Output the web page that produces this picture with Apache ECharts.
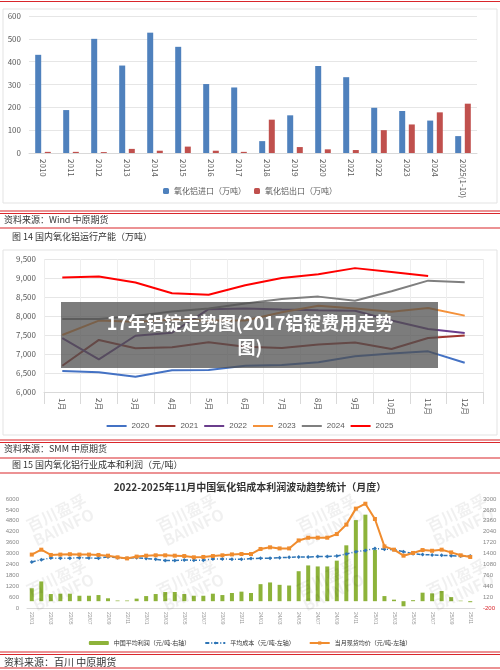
<!DOCTYPE html>
<html><head><meta charset="utf-8">
<script src="https://cdn.jsdelivr.net/npm/echarts@6/dist/echarts.min.js"></script>
<style>html,body{margin:0;padding:0;background:#fff}#c{width:500px;height:670px}</style>
</head><body><div id="c"></div>
<script>
// Chart 1: alumina import/export
const years = ['2010','2011','2012','2013','2014','2015','2016','2017','2018','2019','2020','2021','2022','2023','2024','2025(1-10)'];
const importVals = [430,188,500,383,527,465,302,287,52,165,381,332,198,184,142,74];
const exportVals = [5,5,4,18,10,28,10,5,146,26,16,13,100,125,178,216];
// Chart 2: capacity by month
const months = ['1月','2月','3月','4月','5月','6月','7月','8月','9月','10月','11月','12月'];
const cap2020 = [6550,6520,6400,6570,6580,6690,6710,6780,6940,7010,7070,6770];
const cap2021 = [6690,7370,7150,7180,7310,7190,7160,7250,7300,7130,7420,7490];
const cap2022 = [7420,6860,7480,7560,8180,8200,8170,8150,8140,7880,7660,7550];
const cap2023 = [7500,7880,7850,7900,7880,7880,8100,8270,8200,8110,8210,8010];
const cap2024 = [7920,7920,8000,8120,8200,8330,8450,8510,8400,8650,8930,8890];
const cap2025 = [9010,9040,8880,8600,8560,8810,9000,9100,9260,9160,9050];
// Chart 3: cost & profit
const ym = [];
for (let y=22;y<=25;y++) for (let m=1;m<=12;m++){ if(y===25&&m>11)break; ym.push(y+'/'+String(m).padStart(2,'0')); }
const profit = [380,580,210,220,220,160,160,180,85,20,20,75,150,210,270,270,210,160,160,220,180,240,280,240,500,550,480,460,880,1050,1020,1020,1190,1640,2380,2540,1510,150,45,-150,30,250,230,300,120,15,-30];
const cost = [2530,2660,2750,2740,2740,2770,2750,2740,2810,2770,2740,2770,2720,2680,2610,2610,2640,2630,2630,2700,2700,2680,2680,2720,2740,2740,2770,2790,2810,2810,2830,2840,2860,2970,3100,3170,3280,3240,3210,3100,2990,2940,2920,2900,2880,2860,2860];
const spot = [2940,3210,2920,2940,2960,2940,2940,2920,2880,2790,2730,2830,2880,2900,2900,2880,2860,2790,2810,2860,2900,2950,2970,2970,3250,3340,3280,3280,3720,3870,3870,3870,4070,4590,5470,5740,4900,3390,3210,2880,3030,3190,3150,3210,3060,2900,2810];

const gray='#595959';
const lab={color:gray,fontSize:8,fontFamily:'Noto Sans CJK SC'};
const g=[];
function hline(y,c,w){g.push({type:'line',shape:{x1:0,y1:y,x2:500,y2:y},style:{stroke:c||'#d9262b',lineWidth:w||1.2},z:1});}
function txt(x,y,t,o){g.push({type:'text',x:x,y:y,style:Object.assign({text:t,fill:'#333',font:'9px "Noto Sans CJK SC"',textVerticalAlign:'middle'},o||{}),z:5});}
hline(1.5);hline(211);hline(213.5);hline(228);hline(440);hline(442.5);hline(458);hline(473);hline(652);hline(654.5);hline(668);
g.push({type:'rect',shape:{x:3,y:9,width:494,height:194},style:{fill:'none',stroke:'#e3e3e3'},z:0});
g.push({type:'rect',shape:{x:3,y:250,width:494,height:185},style:{fill:'none',stroke:'#e3e3e3'},z:0});
txt(4,220,'资料来源：Wind 中原期货',{font:'9px "Noto Sans CJK SC"'});
txt(12,237,'图 14 国内氧化铝运行产能（万吨）');
txt(4,449,'资料来源：SMM 中原期货');
txt(12,465,'图 15 国内氧化铝行业成本和利润（元/吨）');
txt(4,662,'资料来源：百川 中原期货',{font:'10px "Noto Sans CJK SC"'});
txt(250,487,'2022-2025年11月中国氧化铝成本利润波动趋势统计（月度）',{textAlign:'center',font:'bold 10px "Noto Sans CJK SC"'});
[[60,520],[190,520],[330,520],[460,520],[60,585],[190,585],[330,585],[460,585]].forEach(p=>{
 g.push({type:'text',x:p[0],y:p[1],rotation:0.45,style:{text:'百川盈孚\nBAIINFO',fill:'rgba(0,0,0,0.06)',font:'bold 16px "Noto Sans CJK SC"',textAlign:'center',textVerticalAlign:'middle'},z:3});
});
g.push({type:'rect',shape:{x:61,y:302,width:377,height:66},style:{fill:'rgba(80,80,80,0.75)'},z:50});
g.push({type:'text',x:250,y:335,style:{text:'17年铝锭走势图(2017铝锭费用走势\n图)',fill:'#fff',font:'bold 18px "Noto Sans CJK SC"',textAlign:'center',textVerticalAlign:'middle',lineHeight:24},z:51});

const lineS=(name,data,color)=>({name,type:'line',xAxisIndex:1,yAxisIndex:1,data,symbol:'none',lineStyle:{width:2,color},itemStyle:{color}});
const plain=v=>String(v);
const opt={
 animation:false,
 graphic:g,
 grid:[
  {left:29,right:23,top:16,height:137},
  {left:44,right:17,top:259,height:133},
  {left:27,right:25,top:499,height:109}
 ],
 legend:[
  {data:['氧化铝进口（万吨）','氧化铝出口（万吨）'],top:182,left:'center',itemWidth:6,itemHeight:6,itemGap:8,textStyle:{color:gray,fontSize:8,fontFamily:'Noto Sans CJK SC'}},
  {data:['2020','2021','2022','2023','2024','2025'],top:417,left:'center',itemWidth:20,itemHeight:2,itemGap:6,icon:'rect',textStyle:{color:gray,fontSize:8}},
  {data:['中国平均利润（元/吨-右轴）','平均成本（元/吨-左轴）','当月现货均价（元/吨-左轴）'],top:635,left:'center',itemWidth:20,itemHeight:4,itemGap:14,textStyle:{color:'#333',fontSize:6,fontFamily:'Noto Sans CJK SC'}}
 ],
 xAxis:[
  {gridIndex:0,type:'category',data:years,axisTick:{show:false},axisLine:{lineStyle:{color:'#d9d9d9'}},axisLabel:Object.assign({rotate:-90,interval:0,margin:6},lab)},
  {gridIndex:1,type:'category',data:months,axisTick:{show:true,lineStyle:{color:'#d9d9d9'},length:12},axisLine:{lineStyle:{color:'#d9d9d9'}},splitLine:{show:true,lineStyle:{color:'#eee'}},axisLabel:Object.assign({rotate:-90,interval:0,margin:6},lab)},
  {gridIndex:2,type:'category',data:ym,axisTick:{show:false},axisLine:{lineStyle:{color:'#d9d9d9'}},axisLabel:{rotate:-90,interval:1,margin:4,color:'#999',fontSize:5}}
 ],
 yAxis:[
  {gridIndex:0,min:0,max:600,interval:100,axisLine:{show:false},axisTick:{show:false},splitLine:{lineStyle:{color:'#e6e6e6'}},axisLabel:lab},
  {gridIndex:1,min:6000,max:9500,interval:500,axisLine:{show:false},axisTick:{show:false},splitLine:{lineStyle:{color:'#e6e6e6'}},axisLabel:Object.assign({formatter:v=>v.toLocaleString('en-US')},lab)},
  {gridIndex:2,min:0,max:6000,interval:600,axisLine:{show:false},axisTick:{show:false},splitLine:{show:false},axisLabel:{color:'#888',fontSize:6,formatter:plain}},
  {gridIndex:2,position:'right',min:-200,max:3000,interval:320,axisLine:{show:false},axisTick:{show:false},splitLine:{show:false},axisLabel:{fontSize:6,formatter:plain,color:v=>v<0?'#d9262b':'#888'}}
 ],
 series:[
  {name:'氧化铝进口（万吨）',type:'bar',xAxisIndex:0,yAxisIndex:0,data:importVals,barWidth:6,barGap:'60%',itemStyle:{color:'#4F81BD'}},
  {name:'氧化铝出口（万吨）',type:'bar',xAxisIndex:0,yAxisIndex:0,data:exportVals,barWidth:6,itemStyle:{color:'#C0504D'}},
  lineS('2020',cap2020,'#4472C4'),
  lineS('2021',cap2021,'#A0352E'),
  lineS('2022',cap2022,'#6A3D8C'),
  lineS('2023',cap2023,'#F4913A'),
  lineS('2024',cap2024,'#7F7F7F'),
  lineS('2025',cap2025,'#FF0000'),
  {name:'中国平均利润（元/吨-右轴）',type:'bar',xAxisIndex:2,yAxisIndex:3,data:profit,barWidth:4,itemStyle:{color:'#8DB33A'}},
  {name:'平均成本（元/吨-左轴）',type:'line',xAxisIndex:2,yAxisIndex:2,data:cost,symbol:'diamond',symbolSize:4,lineStyle:{width:1.5,type:[4,2,1,2],color:'#2E75B6'},itemStyle:{color:'#2E75B6'}},
  {name:'当月现货均价（元/吨-左轴）',type:'line',xAxisIndex:2,yAxisIndex:2,data:spot,symbol:'rect',symbolSize:4,lineStyle:{width:2,color:'#F08C2E'},itemStyle:{color:'#F08C2E'}}
 ]
};
echarts.init(document.getElementById('c')).setOption(opt);
</script></body></html>
